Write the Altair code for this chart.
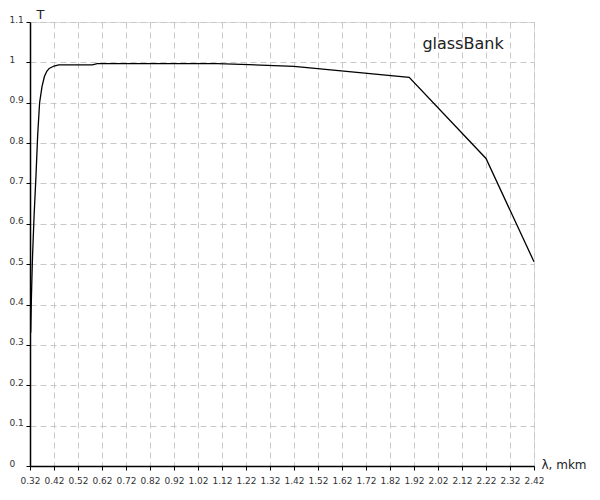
import altair as alt
import pandas as pd

wavelength = [0.323, 0.326, 0.330, 0.337, 0.345, 0.352, 0.360, 0.370, 0.380, 0.390, 0.400,
              0.420, 0.440, 0.580, 0.600, 1.100, 1.200, 1.420, 1.900, 2.220, 2.420]
transmission = [0.33, 0.42, 0.51, 0.62, 0.72, 0.82, 0.90, 0.94, 0.965, 0.978, 0.985,
                 0.991, 0.994, 0.994, 0.997, 0.997, 0.995, 0.990, 0.963, 0.762, 0.506]
x_ticks = [round(0.32 + 0.1 * i, 2) for i in range(22)]
y_ticks = [round(0.1 * i, 1) for i in range(12)]
label_text = ["glassBank"]

df = pd.DataFrame({"x": wavelength, "y": transmission})

FONT = "DejaVu Sans"
W = 504

base = alt.Chart(df)

line = base.mark_line(color="black", strokeWidth=1.3).encode(
    x=alt.X("x:Q",
            scale=alt.Scale(domain=[0.32, 2.42], nice=False, zero=False),
            axis=alt.Axis(values=x_ticks, format=".2f", title="λ, mkm",
                          grid=True, gridColor="#c8c8c8", gridDash=[6, 4],
                          domainColor="black", domainWidth=1.5,
                          tickColor="black", tickSize=4, tickWidth=1,
                          labelFont=FONT, labelFontSize=9, labelColor="#333",
                          labelPadding=6, labelFlush=False,
                          titleFont=FONT, titleFontSize=12, titleFontWeight="normal",
                          titleColor="#222", titleAlign="left", titleAnchor="end",
                          titleX=W + 7, titleY=-2, titleBaseline="middle")),
    y=alt.Y("y:Q",
            scale=alt.Scale(domain=[0, 1.1], nice=False),
            axis=alt.Axis(values=y_ticks, title="T",
                          labelExpr="datum.value == 0 ? '0' : format(datum.value, '.1~f')",
                          grid=True, gridColor="#c8c8c8", gridDash=[6, 4],
                          domainColor="black", domainWidth=1.5,
                          tickColor="black", tickSize=4, tickWidth=1,
                          labelFont=FONT, labelFontSize=9, labelColor="#333",
                          labelAlign="left", labelPadding=17, labelOffset=-3,
                          titleFont=FONT, titleFontSize=13, titleFontWeight="normal",
                          titleColor="#222", titleAngle=0, titleAlign="left",
                          titleX=6, titleY=-8, titleBaseline="middle")),
)

text = alt.Chart(pd.DataFrame({"t": label_text})).mark_text(
    font=FONT, fontSize=16, color="#222", align="center", baseline="middle"
).encode(text="t:N", x=alt.value(433), y=alt.value(22))

chart = alt.layer(line, text).properties(
    width=W, height=444,
    autosize=alt.AutoSizeParams(type="none"),
    padding={"left": 22, "top": 14, "right": 56, "bottom": 22},
).configure_view(stroke=None).configure(background="white")

chart.save("out.html", embed_options={"renderer": "svg", "actions": False})
